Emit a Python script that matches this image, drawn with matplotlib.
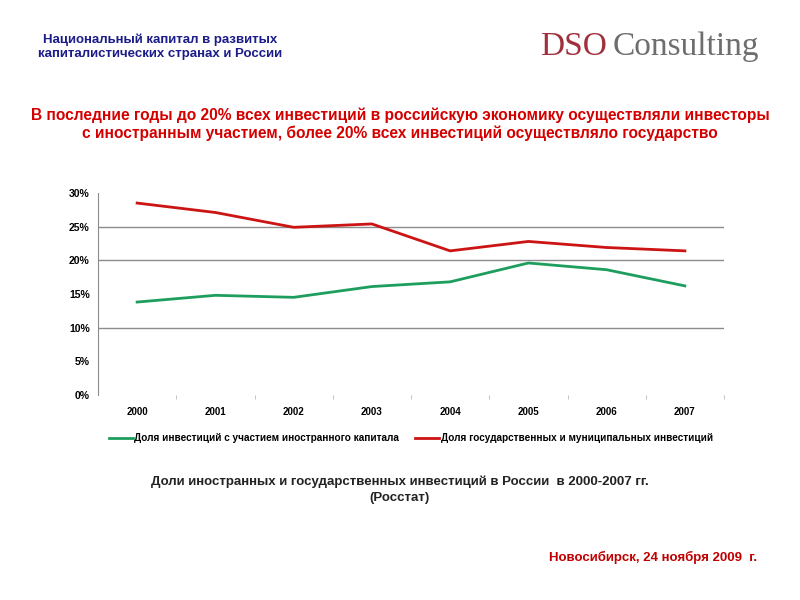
import matplotlib.pyplot as plt
from matplotlib.ticker import FixedLocator

years = ["2000", "2001", "2002", "2003", "2004", "2005", "2006", "2007"]
foreign_share = [13.8, 14.8, 14.5, 16.1, 16.8, 19.6, 18.6, 16.2]
state_share = [28.5, 27.1, 24.9, 25.4, 21.4, 22.8, 21.9, 21.4]
y_ticks = [0, 5, 10, 15, 20, 25, 30]
grid_levels = [10, 20, 25]

plt.rcParams["font.family"] = ["Liberation Sans", "DejaVu Sans"]

fig = plt.figure(figsize=(8, 6), dpi=100)
ax = fig.add_axes([0.1225, 0.3417, 0.7825, 0.3367])

x = range(len(years))
ax.plot(x, foreign_share, color="#1e9e5e", lw=2,
        label="Доля инвестиций с участием иностранного капитала")
ax.plot(x, state_share, color="#cc1414", lw=2,
        label="Доля государственных и муниципальных инвестиций")

for g in grid_levels:
    ax.axhline(g, color="#8c8c8c", lw=1, zorder=0)

ax.set_xlim(-0.5, len(years) - 0.5)
ax.set_ylim(0, 30)
ax.set_xticks(list(x))
ax.set_xticklabels(years, fontsize=7, fontweight="bold")
ax.set_yticks(y_ticks)
ax.set_yticklabels([f"{v}%" for v in y_ticks], fontsize=7.5, fontweight="bold")
ax.tick_params(axis="x", length=0, pad=9)
ax.tick_params(axis="y", length=0, pad=6)
ax.xaxis.set_minor_locator(FixedLocator([i + 0.5 for i in range(len(years))]))
ax.tick_params(axis="x", which="minor", length=3, color="#bbbbbb", direction="out")
for s in ["top", "right", "bottom"]:
    ax.spines[s].set_visible(False)
ax.spines["left"].set_color("#8c8c8c")

ax.legend(loc="upper center", bbox_to_anchor=(0.5, -0.145), ncol=2, frameon=False,
          handlelength=2.4, handletextpad=0.15, columnspacing=1.6,
          prop={"size": 7.2, "weight": "bold"})

fig.text(0.2, 0.922, "Национальный капитал в развитых\nкапиталистических странах и России",
         ha="center", va="center", fontsize=9.5, fontweight="bold", color="#1c1c8a",
         linespacing=1.3)

fig.text(0.675, 0.922, "DSO", ha="left", va="center", fontsize=24,
         family="Liberation Serif", color="#a0303c")
fig.text(0.766, 0.922, "Consulting", ha="left", va="center", fontsize=24,
         family="Liberation Serif", color="#6e6e6e")

fig.text(0.5, 0.793, "В последние годы до 20% всех инвестиций в российскую экономику осуществляли инвесторы\n"
         "с иностранным участием, более 20% всех инвестиций осуществляло государство",
         ha="center", va="center", fontsize=11.2, fontweight="bold", color="#d40000",
         linespacing=1.15)

fig.text(0.5, 0.184, "Доли иностранных и государственных инвестиций в России  в 2000-2007 гг.\n(Росстат)",
         ha="center", va="center", fontsize=9.5, fontweight="bold", color="#222222",
         linespacing=1.5)

fig.text(0.946, 0.071, "Новосибирск, 24 ноября 2009  г.", ha="right", va="center",
         fontsize=9.5, fontweight="bold", color="#c00000")

fig.savefig("out.png", dpi=100)
